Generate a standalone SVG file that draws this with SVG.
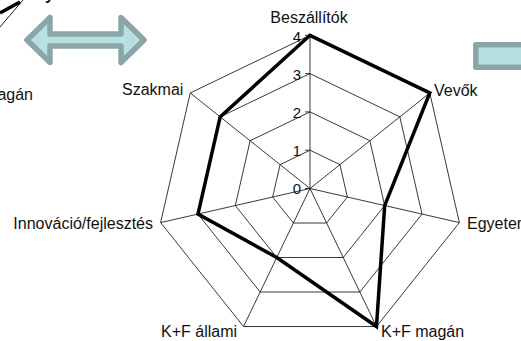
<svg xmlns="http://www.w3.org/2000/svg" width="521" height="341" viewBox="0 0 521 341">
<style>
  .lbl { font-family: "Liberation Sans", Arial, sans-serif; font-size: 16px; fill: #111; }
  .tick { font-family: "Liberation Sans", Arial, sans-serif; font-size: 15px; fill: #111; text-anchor: end; }
  .grid { fill: none; stroke: #222; stroke-width: 0.9; }
  .data { fill: none; stroke: #000; stroke-width: 3.5; stroke-linejoin: miter; }
  .arrow { fill: #b8dfe1; stroke: #8aa6a7; stroke-width: 5.5; stroke-linejoin: round; }
</style>
<rect width="521" height="341" fill="#fff"/>

<g id="fragments">
  <path d="M0,13 L20,2" stroke="#000" stroke-width="3.5" fill="none"/>
  <path d="M0,27 L23,0" stroke="#000" stroke-width="0.9" fill="none"/>
  <text class="lbl" x="45" y="0" font-weight="bold">y</text>
  <text class="lbl" x="33" y="100" text-anchor="end">agán</text>
</g>

<g id="double-arrow">
  <path class="arrow" d="M27,40 L50,17.5 L50,34 L121,34 L121,17.5 L144,40 L121,62.5 L121,46 L50,46 L50,62.5 Z"/>
</g>

<g id="right-shape">
  <rect class="arrow" x="475.8" y="44.8" width="60" height="22.5" stroke-linejoin="miter"/>
</g>

<g id="grid">
  <polygon class="grid" points="310,150.2 339.94,164.62 347.34,197.02 326.62,223.01 293.38,223.01 272.66,197.02 280.06,164.62"/>
  <polygon class="grid" points="310,111.9 369.89,140.74 384.68,205.55 343.24,257.51 276.76,257.51 235.32,205.55 250.11,140.74"/>
  <polygon class="grid" points="310,73.6 399.83,116.86 422.02,214.07 359.85,292.02 260.15,292.02 197.98,214.07 220.17,116.86"/>
  <polygon class="grid" points="310,35.3 429.78,92.98 459.36,222.59 376.47,326.53 243.53,326.53 160.64,222.59 190.22,92.98"/>
  <path class="grid" d="M310,188.5 L310,35.3 M310,188.5 L429.78,92.98 M310,188.5 L459.36,222.59 M310,188.5 L376.47,326.53 M310,188.5 L243.53,326.53 M310,188.5 L160.64,222.59 M310,188.5 L190.22,92.98"/>
  <path class="grid" d="M305,35.3 H310 M305,73.6 H310 M305,111.9 H310 M305,150.2 H310 M305,188.5 H310"/>
</g>

<g id="axis-labels">
  <text class="tick" x="301" y="41.5">4</text>
  <text class="tick" x="301" y="80">3</text>
  <text class="tick" x="301" y="118">2</text>
  <text class="tick" x="301" y="156">1</text>
  <text class="tick" x="301" y="194">0</text>
</g>

<g id="data-series">
  <polygon class="data" points="310,35.3 429.78,92.98 384.68,205.55 376.47,326.53 276.76,257.51 197.98,214.07 220.17,116.86"/>
</g>

<g id="category-labels">
  <text class="lbl" x="309" y="23" text-anchor="middle">Beszállítók</text>
  <text class="lbl" x="434" y="96">Vevők</text>
  <text class="lbl" x="467" y="229">Egyetem</text>
  <text class="lbl" x="381" y="337">K+F magán</text>
  <text class="lbl" x="161" y="337">K+F állami</text>
  <text class="lbl" x="153" y="229" text-anchor="end">Innováció/fejlesztés</text>
  <text class="lbl" x="122" y="95">Szakmai</text>
</g>
</svg>
